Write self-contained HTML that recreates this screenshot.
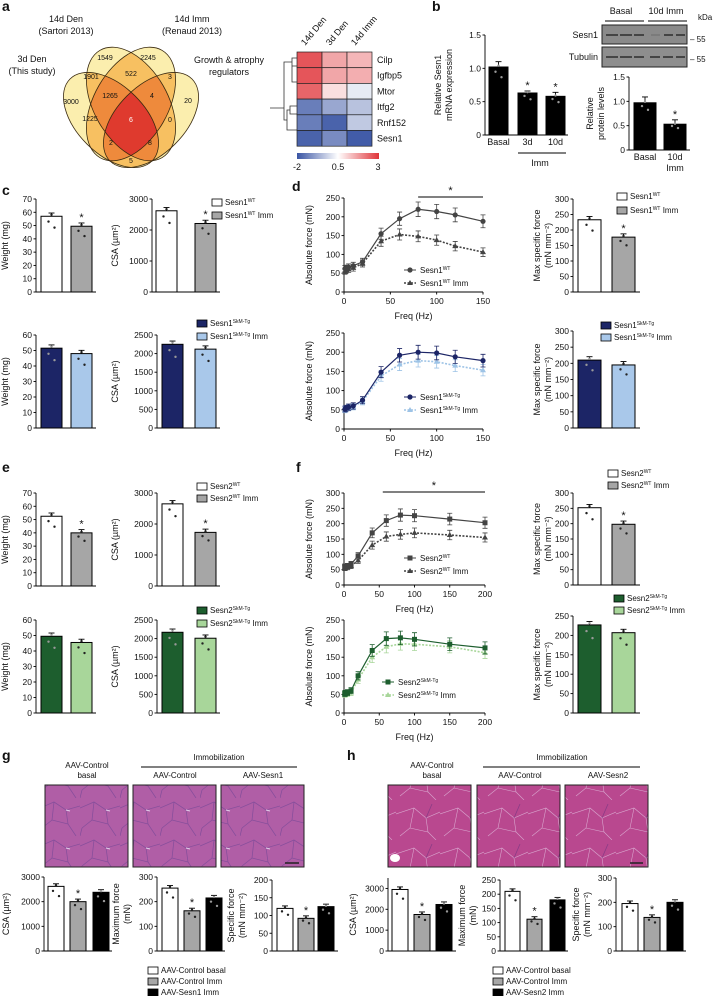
<!DOCTYPE html>
<html><head><meta charset="utf-8"><style>
html,body{margin:0;padding:0;background:#fff}
svg{display:block;font-family:"Liberation Sans",Arial,sans-serif}
text{fill:#111}
</style></head><body>
<svg id="fig" width="713" height="996" viewBox="0 0 713 996" xmlns="http://www.w3.org/2000/svg">
<defs>
<clipPath id="cE1"><ellipse cx="131" cy="104" rx="37" ry="62" transform="rotate(-30 131 104)"/></clipPath>
<clipPath id="cE2"><ellipse cx="131" cy="104" rx="37" ry="62" transform="rotate(30 131 104)"/></clipPath>
<clipPath id="cE3"><ellipse cx="111" cy="120" rx="34" ry="58" transform="rotate(-45 111 120)"/></clipPath>
<clipPath id="cE4"><ellipse cx="151" cy="120" rx="34" ry="58" transform="rotate(45 151 120)"/></clipPath>
<linearGradient id="hmbar" x1="0" x2="1" y1="0" y2="0">
<stop offset="0" stop-color="#3a55a4"/><stop offset="0.5" stop-color="#ffffff"/><stop offset="1" stop-color="#e0353a"/>
</linearGradient>
<pattern id="histoG" width="40" height="38" patternUnits="userSpaceOnUse">
<rect width="40" height="38" fill="#b05ea6"/>
<path d="M0 10 L14 4 L26 12 L40 8 M14 4 L12 22 L2 30 M12 22 L28 26 L26 12 M28 26 L36 38 M2 30 L0 38" stroke="#7d4a98" stroke-width="0.8" fill="none" opacity="0.8"/>
<path d="M26 12 L30 13" stroke="#e0cfe8" stroke-width="1"/>
</pattern>
<pattern id="histoH" width="44" height="40" patternUnits="userSpaceOnUse">
<rect width="44" height="40" fill="#b9488f"/>
<path d="M0 14 L18 8 L30 18 L44 12 M18 8 L14 28 L4 36 M14 28 L32 32 L30 18 M32 32 L40 40" stroke="#d9a6cf" stroke-width="0.6" fill="none"/>
<path d="M30 18 L36 4" stroke="#8a3a86" stroke-width="0.8" fill="none"/>
</pattern>
</defs>

<!-- Panel a: Venn -->
<g stroke="none">
<g fill="#fbeeae">
<ellipse cx="131" cy="104" rx="37" ry="62" transform="rotate(-30 131 104)"/>
<ellipse cx="131" cy="104" rx="37" ry="62" transform="rotate(30 131 104)"/>
<ellipse cx="111" cy="120" rx="34" ry="58" transform="rotate(-45 111 120)"/>
<ellipse cx="151" cy="120" rx="34" ry="58" transform="rotate(45 151 120)"/>
</g>
<g fill="#f7c061">
<g clip-path="url(#cE1)"><rect x="0" y="0" width="300" height="200" clip-path="url(#cE2)"/></g>
<g clip-path="url(#cE1)"><rect x="0" y="0" width="300" height="200" clip-path="url(#cE3)"/></g>
<g clip-path="url(#cE1)"><rect x="0" y="0" width="300" height="200" clip-path="url(#cE4)"/></g>
<g clip-path="url(#cE2)"><rect x="0" y="0" width="300" height="200" clip-path="url(#cE3)"/></g>
<g clip-path="url(#cE2)"><rect x="0" y="0" width="300" height="200" clip-path="url(#cE4)"/></g>
<g clip-path="url(#cE3)"><rect x="0" y="0" width="300" height="200" clip-path="url(#cE4)"/></g>
</g>
<g fill="#ee8a3c">
<g clip-path="url(#cE1)"><g clip-path="url(#cE2)"><rect x="0" y="0" width="300" height="200" clip-path="url(#cE3)"/></g></g>
<g clip-path="url(#cE1)"><g clip-path="url(#cE2)"><rect x="0" y="0" width="300" height="200" clip-path="url(#cE4)"/></g></g>
<g clip-path="url(#cE1)"><g clip-path="url(#cE3)"><rect x="0" y="0" width="300" height="200" clip-path="url(#cE4)"/></g></g>
<g clip-path="url(#cE2)"><g clip-path="url(#cE3)"><rect x="0" y="0" width="300" height="200" clip-path="url(#cE4)"/></g></g>
</g>
<g fill="#df3a2e">
<g clip-path="url(#cE1)"><g clip-path="url(#cE2)"><g clip-path="url(#cE3)"><rect x="0" y="0" width="300" height="200" clip-path="url(#cE4)"/></g></g></g>
</g>
<g fill="none" stroke="#3a2a10" stroke-width="0.8">
<ellipse cx="131" cy="104" rx="37" ry="62" transform="rotate(-30 131 104)"/>
<ellipse cx="131" cy="104" rx="37" ry="62" transform="rotate(30 131 104)"/>
<ellipse cx="111" cy="120" rx="34" ry="58" transform="rotate(-45 111 120)"/>
<ellipse cx="151" cy="120" rx="34" ry="58" transform="rotate(45 151 120)"/>
</g>
</g>
<g font-size="9" text-anchor="middle">
<text x="2" y="11" font-size="14" font-weight="bold" text-anchor="start">a</text>
<text x="66" y="22">14d Den</text><text x="66" y="34">(Sartori 2013)</text>
<text x="192" y="22">14d Imm</text><text x="192" y="34">(Renaud 2013)</text>
<text x="32" y="62">3d Den</text><text x="32" y="74">(This study)</text>
<text x="229" y="63">Growth &amp; atrophy</text><text x="229" y="75">regulators</text>
</g>
<g font-size="7" text-anchor="middle">
<text x="105" y="60">1549</text><text x="148" y="60">2245</text><text x="91" y="79">1901</text>
<text x="131" y="76">522</text><text x="170" y="79">3</text><text x="110" y="98">1265</text>
<text x="152" y="98">4</text><text x="71" y="104">3000</text><text x="188" y="103">20</text>
<text x="90" y="121">1225</text><text x="131" y="122" style="fill:#fff">6</text><text x="170" y="122">0</text>
<text x="111" y="145">2</text><text x="150" y="145">8</text><text x="131" y="163">5</text>
</g>

<!-- Heatmap -->
<g id="heatmap"></g>

<!-- Western blot -->
<g font-size="9">
<text x="621" y="14" text-anchor="middle">Basal</text>
<text x="666" y="14" text-anchor="middle">10d Imm</text>
<line x1="605" y1="21" x2="644" y2="21" stroke="#000"/>
<line x1="648" y1="21" x2="687" y2="21" stroke="#000"/>
<text x="698" y="20" font-size="8">kDa</text>
<rect x="602" y="25" width="85" height="19" fill="#8a8a8a" stroke="#222"/>
<rect x="602" y="47" width="85" height="20" fill="#8e8e8e" stroke="#222"/>
<g stroke="#333" stroke-width="1.6">
<line x1="606" y1="35" x2="618" y2="35"/><line x1="620" y1="35" x2="632" y2="35"/><line x1="634" y1="35" x2="644" y2="35"/>
<line x1="651" y1="35" x2="660" y2="35" stroke="#777"/><line x1="664" y1="35" x2="673" y2="35"/><line x1="676" y1="35" x2="685" y2="35"/>
<line x1="606" y1="57" x2="618" y2="57"/><line x1="620" y1="57" x2="632" y2="57"/><line x1="634" y1="57" x2="644" y2="57"/>
<line x1="650" y1="57" x2="660" y2="57"/><line x1="663" y1="57" x2="673" y2="57"/><line x1="676" y1="57" x2="685" y2="57"/>
</g>
<text x="598" y="38" text-anchor="end">Sesn1</text>
<text x="598" y="60" text-anchor="end">Tubulin</text>
<text x="690" y="42" font-size="8">– 55</text>
<text x="690" y="62" font-size="8">– 55</text>
<text x="432" y="11" font-size="14" font-weight="bold">b</text>
</g>

<!-- Histology -->
<g font-size="8" text-anchor="middle">
<text x="2" y="760" font-size="14" font-weight="bold" text-anchor="start">g</text>
<text x="87" y="768">AAV-Control</text><text x="87" y="778">basal</text>
<text x="219" y="760">Immobilization</text>
<line x1="141" y1="767" x2="297" y2="767" stroke="#000"/>
<text x="175" y="778">AAV-Control</text><text x="263" y="778">AAV-Sesn1</text>
<rect x="45" y="785" width="83" height="82" fill="url(#histoG)" stroke="#222"/>
<rect x="133" y="785" width="83" height="82" fill="url(#histoG)" stroke="#222"/>
<rect x="221" y="785" width="83" height="82" fill="url(#histoG)" stroke="#222"/>
<line x1="285" y1="863" x2="299" y2="863" stroke="#222" stroke-width="1.5"/>
</g>
<g font-size="8" text-anchor="middle">
<text x="347" y="760" font-size="14" font-weight="bold" text-anchor="start">h</text>
<text x="432" y="768">AAV-Control</text><text x="432" y="778">basal</text>
<text x="562" y="760">Immobilization</text>
<line x1="483" y1="767" x2="640" y2="767" stroke="#000"/>
<text x="520" y="778">AAV-Control</text><text x="608" y="778">AAV-Sesn2</text>
<rect x="388" y="785" width="83" height="82" fill="url(#histoH)" stroke="#222"/>
<rect x="477" y="785" width="83" height="82" fill="url(#histoH)" stroke="#222"/>
<rect x="565" y="785" width="83" height="82" fill="url(#histoH)" stroke="#222"/>
<ellipse cx="395" cy="858" rx="5" ry="4" fill="#fff"/>
<line x1="630" y1="863" x2="643" y2="863" stroke="#222" stroke-width="1.5"/>
</g>

<g id="charts"></g>
</svg>
<script>
// ---------- DATA ----------
const hmCols = ["14d Den","3d Den","14d Imm"];
const hmRows = ["Cilp","Igfbp5","Mtor","Itfg2","Rnf152","Sesn1"];
const hmVals = [[2.6,1.6,1.4],[2.6,1.6,1.5],[2.4,0.9,0.2],[-1.4,-0.8,-0.4],[-1.4,-1.8,-0.3],[-1.8,-1.2,-1.9]];
const hmTicks = ["-2","0.5","3"];

const bMrna = [1.02,0.63,0.58];
const bMrnaErr = [0.08,0.03,0.06];
const bProt = [0.97,0.53];
const bProtErr = [0.12,0.09];

const cWeightTop = [57,49.5];
const cCsaTop = [2620,2210];
const dMaxTop = [233,177];
const cWeightBot = [51.5,48];
const cCsaBot = [2250,2120];
const dMaxBot = [210,195];
const eWeightTop = [52.5,40];
const eCsaTop = [2650,1730];
const fMaxTop = [252,198];
const eWeightBot = [49.5,45.5];
const eCsaBot = [2170,2010];
const fMaxBot = [227,207];

const dFreq = [1,2,5,10,20,40,60,80,100,120,150];
const dWT = [62,63,66,70,80,155,195,220,214,205,188];
const dWTImm = [55,57,60,64,76,135,153,148,138,122,106];
const dTg = [52,54,57,60,75,148,192,200,198,188,178];
const dTgImm = [50,52,55,58,72,138,168,178,175,165,153];
const fFreq = [1,2,5,10,20,40,60,80,100,150,200];
const fWT = [60,60,62,68,95,170,210,228,226,215,203];
const fWTImm = [55,56,58,62,80,130,158,165,170,163,155];
const fTg = [52,53,55,60,100,168,200,202,198,185,175];
const fTgImm = [50,51,52,55,90,150,178,186,185,178,162];

const gCsa = [2620,2000,2380];
const gForce = [255,163,215];
const gSpec = [120,92,125];
const hCsa = [2950,1750,2230];
const hForce = [210,112,180];
const hSpec = [195,138,200];

// ---------- helpers ----------
const NS = "http://www.w3.org/2000/svg";
const root = document.getElementById('charts');
function mk(tag, attrs, parent){
  const e = document.createElementNS(NS, tag);
  for (const k in attrs) e.setAttribute(k, attrs[k]);
  (parent||root).appendChild(e);
  return e;
}
function label(x,y,str,size,anchor,parent,rot){
  const t = mk('text',{x:x,y:y,'font-size':size||8,'text-anchor':anchor||'middle'},parent);
  if (rot) t.setAttribute('transform','rotate(-90 '+x+' '+y+')');
  t.textContent = str;
  
  
  return t;
}
function supLabel(x,y,base,sup,tail,size,parent){
  const t = mk('text',{x:x,y:y,'font-size':size||8},parent);
  
  
  const a = document.createElementNS(NS,'tspan'); a.textContent = base; t.appendChild(a);
  const b = document.createElementNS(NS,'tspan'); b.textContent = sup; b.setAttribute('font-size','5'); b.setAttribute('dy','-3'); t.appendChild(b);
  const c = document.createElementNS(NS,'tspan'); c.textContent = tail; c.setAttribute('dy','3'); t.appendChild(c);
  return t;
}
function legendBox(x,y,fill,base,sup,tail){
  const r = mk('rect',{x:x,y:y-6,width:10,height:7,fill:fill,stroke:'#000','stroke-width':0.8});
  
  
  supLabel(x+13,y,base,sup,tail,8);
}
function yAxis(g, ax, yTop, yBot, max, ticks, fmt){
  const l = mk('line',{x1:ax,y1:yTop,x2:ax,y2:yBot,stroke:'#000','stroke-width':0.9},g);
  
  
  ticks.forEach(v=>{
    const y = yBot - v/max*(yBot-yTop);
    const tk = mk('line',{x1:ax-2.5,y1:y,x2:ax,y2:y,stroke:'#000','stroke-width':0.9},g);
    
    
    label(ax-4,y+3,fmt?fmt(v):String(v),8.5,'end',g);
  });
}
function barChart(name, vals, L, errs){
  const g = mk('g',{});
  
  
  yAxis(g, L.ax, L.yTop, L.yBot, L.max, L.ticks, L.fmt);
  const xl = mk('line',{x1:L.ax,y1:L.yBot,x2:L.axEnd,y2:L.yBot,stroke:'#000','stroke-width':0.9},g);
  
  
  const sc = v => L.yBot - v/L.max*(L.yBot-L.yTop);
  vals.forEach((v,i)=>{
    const y = sc(v);
    const er = errs ? errs[i] : L.max*0.035;
    const cx = L.xs[i] + L.w/2;
    const e1 = mk('line',{x1:cx,y1:sc(v+er),x2:cx,y2:y,stroke:'#000','stroke-width':0.9},g);
    
    
    const e2 = mk('line',{x1:cx-3,y1:sc(v+er),x2:cx+3,y2:sc(v+er),stroke:'#000','stroke-width':0.9},g);
    
    
    const r = mk('rect',{x:L.xs[i],y:y,width:L.w,height:L.yBot-y,fill:L.fills[i],stroke:'#000','stroke-width':1},g);
    
    
    const dark = L.fills[i]==='#000'||L.fills[i]==='#1c2566'||L.fills[i]==='#1d5e2e';
    const dotc = dark ? '#999' : '#222';
    [0.93,1.02,0.85].forEach((f,k)=>{
      const d = mk('circle',{cx:cx+(k-1)*3,cy:sc(v*f),r:1.2,fill:dotc},g);
      
      
    });
    if (L.stars && L.stars[i]) label(cx, sc(v+er)-2, '*', 11, 'middle', g);
  });
  if (L.title) L.title.forEach((t,k)=> label(L.tx + k*11, (L.yTop+L.yBot)/2, t, 9, 'middle', g, true));
  if (L.xlabels) L.xlabels.forEach((t,i)=> label(L.xs[i]+L.w/2, L.yBot+10, t, 9, 'middle', g));
  return g;
}
function lineChart(name, freq, s1, s2, L){
  const g = mk('g',{});
  
  
  yAxis(g, L.ax, L.yTop, L.yBot, L.max, L.ticks);
  const xl = mk('line',{x1:L.ax,y1:L.yBot,x2:L.axEnd,y2:L.yBot,stroke:'#000','stroke-width':0.9},g);
  
  
  const sx = f => L.ax + f/L.xmax*(L.axEnd-L.ax);
  const sy = v => L.yBot - v/L.max*(L.yBot-L.yTop);
  L.xticks.forEach(f=>{
    const tk = mk('line',{x1:sx(f),y1:L.yBot,x2:sx(f),y2:L.yBot+2.5,stroke:'#000','stroke-width':0.9},g);
    
    
    label(sx(f), L.yBot+12, String(f), 8.5, 'middle', g);
  });
  label((L.ax+L.axEnd)/2, L.yBot+27, 'Freq (Hz)', 9, 'middle', g);
  label(L.ax-32, (L.yTop+L.yBot)/2, 'Absolute force (mN)', 9, 'middle', g, true);
  [[s2,L.c2,true],[s1,L.c1,false]].forEach(([s,col,dash])=>{
    let dstr = '';
    s.forEach((v,i)=>{ dstr += (i?'L':'M')+sx(freq[i]).toFixed(1)+' '+sy(v).toFixed(1); });
    const p = mk('path',{d:dstr,fill:'none',stroke:col,'stroke-width':dash?1.6:1.2},g);
    if (dash) p.setAttribute('stroke-dasharray','2 1.5');
    
    
    s.forEach((v,i)=>{
      const x = sx(freq[i]), y = sy(v), er = v*0.07+4;
      const eb = mk('path',{d:`M${x} ${sy(v-er)}L${x} ${sy(v+er)}M${x-2.5} ${sy(v-er)}L${x+2.5} ${sy(v-er)}M${x-2.5} ${sy(v+er)}L${x+2.5} ${sy(v+er)}`,stroke:col,'stroke-width':0.8,fill:'none'},g);
      
      
      let m;
      if (dash) m = mk('path',{d:`M${x} ${y-3}L${x+3} ${y+2}L${x-3} ${y+2}Z`,fill:col},g);
      else if (L.square) m = mk('rect',{x:x-2.5,y:y-2.5,width:5,height:5,fill:col},g);
      else m = mk('circle',{cx:x,cy:y,r:2.6,fill:col},g);
      
      
    });
  });
  if (L.starFrom!==undefined){
    const sl = mk('line',{x1:sx(L.starFrom),y1:L.yTop-1,x2:L.axEnd,y2:L.yTop-1,stroke:'#000','stroke-width':0.9},g);
    
    
    label((sx(L.starFrom)+L.axEnd)/2, L.yTop-4, '*', 11, 'middle', g);
  }
  const lx = L.lx, ly = L.ly;
  const m1 = L.square ? mk('rect',{x:lx-2.5,y:ly-5.5,width:5,height:5,fill:L.c1},g) : mk('circle',{cx:lx,cy:ly-3,r:2.6,fill:L.c1},g);
  
  
  const ln1 = mk('line',{x1:lx-6,y1:ly-3,x2:lx+6,y2:ly-3,stroke:L.c1},g);
  
  
  supLabel(lx+10, ly, L.base, L.sup, '', 8, g);
  const m2 = mk('path',{d:`M${lx} ${ly+13-6}L${lx+3} ${ly+13-1}L${lx-3} ${ly+13-1}Z`,fill:L.c2},g);
  
  
  const ln2 = mk('line',{x1:lx-6,y1:ly+10,x2:lx+6,y2:ly+10,stroke:L.c2,'stroke-dasharray':'2 1.5','stroke-width':1.4},g);
  
  
  supLabel(lx+10, ly+13, L.base, L.sup, ' Imm', 8, g);
}

// ---------- heatmap ----------
(function(){
  const g = document.getElementById('heatmap');
  const x0=297, y0=52, cw=25, rh=15.7;
  function col(v){
    const t = (v+2)/5;
    const lo=[58,85,164], mid=[255,255,255], hi=[224,53,58];
    let a,b,f;
    if (t<0.5){a=lo;b=mid;f=t/0.5;} else {a=mid;b=hi;f=(t-0.5)/0.5;}
    return 'rgb('+a.map((c,k)=>Math.round(c+(b[k]-c)*f)).join(',')+')';
  }
  hmVals.forEach((row,r)=>row.forEach((v,c)=>{
    const rc = mk('rect',{x:x0+c*cw,y:y0+r*rh,width:cw,height:rh,fill:col(v),stroke:'#222','stroke-width':0.7},g);
    
    
  }));
  hmRows.forEach((n,r)=>label(x0+3*cw+5, y0+r*rh+11, n, 9, 'start', g));
  hmCols.forEach((n,c)=>{
    const t = label(x0+c*cw+8, y0-6, n, 9, 'start', g);
    t.setAttribute('transform','rotate(-50 '+(x0+c*cw+8)+' '+(y0-6)+')');
  });
  const dg = mk('path',{d:'M297 58H292V66H297M292 62H284V108H270M297 82H292V62M297 106H290V114H297M290 110H287V130H297M287 120H284V108',fill:'none',stroke:'#333','stroke-width':0.8},g);
  
  
  const cb = mk('rect',{x:297,y:153,width:82,height:6,fill:'url(#hmbar)'},g);
  
  
  label(297,170,hmTicks[0],9,'middle',g);
  label(338,170,hmTicks[1],9,'middle',g);
  label(378,170,hmTicks[2],9,'middle',g);
})();

// ---------- panel b ----------
barChart('mrna-bar-chart', bMrna, {ax:485,axEnd:568,yTop:35,yBot:135,max:1.5,ticks:[0,0.5,1,1.5],fmt:v=>v===0?'0':v.toFixed(1),xs:[489,518,546],w:19,fills:['#000','#000','#000'],stars:[0,1,1],title:['Relative Sesn1','mRNA expression'],tx:441,xlabels:['Basal','3d','10d']}, bMrnaErr);
const immBr = mk('line',{x1:518,y1:153,x2:566,y2:153,stroke:'#000'});


label(540,166,'Imm',9,'middle');
barChart('protein-bar-chart', bProt, {ax:629,axEnd:690,yTop:77,yBot:150,max:1.5,ticks:[0,0.5,1,1.5],fmt:v=>v===0?'0':v.toFixed(1),xs:[634,664],w:22,fills:['#000','#000'],stars:[0,1],title:['Relative','protein levels'],tx:593,xlabels:['Basal','10d']}, bProtErr);
label(675,171,'Imm',9,'middle');

// ---------- panel c/d ----------
label(2,195,'c',14,'start').setAttribute('font-weight','bold');
label(292,191,'d',14,'start').setAttribute('font-weight','bold');
label(2,472,'e',14,'start').setAttribute('font-weight','bold');
label(296,472,'f',14,'start').setAttribute('font-weight','bold');

const wt2 = ['#fff','#a6a6a6'];
const tg1 = ['#1c2566','#a9c8ea'];
const tg2 = ['#1d5e2e','#a8d69a'];

barChart('c-weight-wt', cWeightTop, {ax:36,axEnd:96,yTop:199,yBot:292,max:70,ticks:[0,10,20,30,40,50,60,70],xs:[41,71],w:21,fills:wt2,stars:[0,1],title:['Weight (mg)'],tx:8});
barChart('c-csa-wt', cCsaTop, {ax:152,axEnd:220,yTop:199,yBot:292,max:3000,ticks:[0,1000,2000,3000],xs:[156,195],w:21,fills:wt2,stars:[0,1],title:['CSA (µm²)'],tx:118});
legendBox(212,205,'#fff','Sesn1','WT','');
legendBox(212,218,'#a6a6a6','Sesn1','WT',' Imm');
lineChart('d-force-wt', dFreq, dWT, dWTImm, {ax:344,axEnd:483,yTop:198,yBot:292,max:250,ticks:[0,50,100,150,200,250],xmax:150,xticks:[0,50,100,150],c1:'#444',c2:'#444',starFrom:80,lx:410,ly:273,base:'Sesn1',sup:'WT'});
barChart('d-max-wt', dMaxTop, {ax:573,axEnd:640,yTop:199,yBot:292,max:300,ticks:[0,50,100,150,200,250,300],xs:[578,612],w:23,fills:wt2,stars:[0,1],title:['Max specific force','(mN mm⁻²)'],tx:540});
legendBox(617,199,'#fff','Sesn1','WT','');
legendBox(617,213,'#a6a6a6','Sesn1','WT',' Imm');

barChart('c-weight-tg', cWeightBot, {ax:36,axEnd:96,yTop:335,yBot:428,max:60,ticks:[0,10,20,30,40,50,60],xs:[41,71],w:21,fills:tg1,title:['Weight (mg)'],tx:8});
barChart('c-csa-tg', cCsaBot, {ax:157,axEnd:220,yTop:335,yBot:428,max:2500,ticks:[0,500,1000,1500,2000,2500],xs:[162,195],w:21,fills:tg1,title:['CSA (µm²)'],tx:118});
legendBox(197,326,'#1c2566','Sesn1','SkM-Tg','');
legendBox(197,339,'#a9c8ea','Sesn1','SkM-Tg',' Imm');
lineChart('d-force-tg', dFreq, dTg, dTgImm, {ax:344,axEnd:483,yTop:333,yBot:429,max:250,ticks:[0,50,100,150,200,250],xmax:150,xticks:[0,50,100,150],c1:'#1c2566',c2:'#9dc3e6',lx:410,ly:400,base:'Sesn1',sup:'SkM-Tg'});
barChart('d-max-tg', dMaxBot, {ax:573,axEnd:640,yTop:331,yBot:428,max:300,ticks:[0,50,100,150,200,250,300],xs:[578,612],w:23,fills:tg1,title:['Max specific force','(mN mm⁻²)'],tx:540});
legendBox(601,328,'#1c2566','Sesn1','SkM-Tg','');
legendBox(601,340,'#a9c8ea','Sesn1','SkM-Tg',' Imm');

// ---------- panel e/f ----------
barChart('e-weight-wt', eWeightTop, {ax:36,axEnd:96,yTop:493,yBot:586,max:70,ticks:[0,10,20,30,40,50,60,70],xs:[41,71],w:21,fills:wt2,stars:[0,1],title:['Weight (mg)'],tx:8});
barChart('e-csa-wt', eCsaTop, {ax:157,axEnd:220,yTop:493,yBot:586,max:3000,ticks:[0,1000,2000,3000],xs:[162,195],w:21,fills:wt2,stars:[0,1],title:['CSA (µm²)'],tx:118});
legendBox(197,489,'#fff','Sesn2','WT','');
legendBox(197,501,'#a6a6a6','Sesn2','WT',' Imm');
lineChart('f-force-wt', fFreq, fWT, fWTImm, {ax:344,axEnd:485,yTop:493,yBot:585,max:300,ticks:[0,50,100,150,200,250,300],xmax:200,xticks:[0,50,100,150,200],c1:'#444',c2:'#444',square:true,starFrom:55,lx:410,ly:561,base:'Sesn2',sup:'WT'});
barChart('f-max-wt', fMaxTop, {ax:573,axEnd:640,yTop:493,yBot:585,max:300,ticks:[0,50,100,150,200,250,300],xs:[578,612],w:23,fills:wt2,stars:[0,1],title:['Max specific force','(mN mm⁻²)'],tx:540});
legendBox(608,476,'#fff','Sesn2','WT','');
legendBox(608,488,'#a6a6a6','Sesn2','WT',' Imm');

barChart('e-weight-tg', eWeightBot, {ax:36,axEnd:96,yTop:620,yBot:713,max:60,ticks:[0,10,20,30,40,50,60],xs:[41,71],w:21,fills:tg2,title:['Weight (mg)'],tx:8});
barChart('e-csa-tg', eCsaBot, {ax:157,axEnd:220,yTop:620,yBot:713,max:2500,ticks:[0,500,1000,1500,2000,2500],xs:[162,195],w:21,fills:tg2,title:['CSA (µm²)'],tx:118});
legendBox(197,613,'#1d5e2e','Sesn2','SkM-Tg','');
legendBox(197,626,'#a8d69a','Sesn2','SkM-Tg',' Imm');
lineChart('f-force-tg', fFreq, fTg, fTgImm, {ax:344,axEnd:485,yTop:620,yBot:713,max:250,ticks:[0,50,100,150,200,250],xmax:200,xticks:[0,50,100,150,200],c1:'#1d5e2e',c2:'#a8d69a',square:true,lx:388,ly:685,base:'Sesn2',sup:'SkM-Tg'});
barChart('f-max-tg', fMaxBot, {ax:573,axEnd:640,yTop:616,yBot:713,max:250,ticks:[0,50,100,150,200,250],xs:[578,612],w:23,fills:tg2,title:['Max specific force','(mN mm⁻²)'],tx:540});
legendBox(614,601,'#1d5e2e','Sesn2','SkM-Tg','');
legendBox(614,613,'#a8d69a','Sesn2','SkM-Tg',' Imm');

// ---------- panel g/h bars ----------
const g3 = ['#fff','#a6a6a6','#000'];
barChart('g-csa', gCsa, {ax:44,axEnd:112,yTop:877,yBot:951,max:3000,ticks:[0,1000,2000,3000],xs:[48,70,93],w:16,fills:g3,stars:[0,1,0],title:['CSA (µm²)'],tx:9});
barChart('g-max-force', gForce, {ax:157,axEnd:225,yTop:877,yBot:951,max:300,ticks:[0,100,200,300],xs:[162,184,206],w:16,fills:g3,stars:[0,1,0],title:['Maximum force','(mN)'],tx:119});
barChart('g-specific-force', gSpec, {ax:272,axEnd:338,yTop:880,yBot:951,max:200,ticks:[0,50,100,150,200],xs:[277,298,318],w:16,fills:g3,stars:[0,1,0],title:['Specific force','(mN mm⁻²)'],tx:234});
legendBox(148,973,'#fff','AAV-Control basal','','');
legendBox(148,984,'#a6a6a6','AAV-Control Imm','','');
legendBox(148,995,'#000','AAV-Sesn1 Imm','','');

barChart('h-csa', hCsa, {ax:388,axEnd:456,yTop:878,yBot:951,max:3500,ticks:[0,1000,2000,3000],xs:[392,414,436],w:16,fills:g3,stars:[0,1,0],title:['CSA (µm²)'],tx:356});
barChart('h-max-force', hForce, {ax:500,axEnd:568,yTop:880,yBot:951,max:250,ticks:[0,50,100,150,200,250],xs:[505,527,550],w:15,fills:g3,stars:[0,1,0],title:['Maximum force','(mN)'],tx:465});
barChart('h-specific-force', hSpec, {ax:616,axEnd:686,yTop:878,yBot:951,max:300,ticks:[0,100,200,300],xs:[622,644,667],w:16,fills:g3,stars:[0,1,0],title:['Specific force','(mN mm⁻²)'],tx:579});
legendBox(493,973,'#fff','AAV-Control basal','','');
legendBox(493,984,'#a6a6a6','AAV-Control Imm','','');
legendBox(493,995,'#000','AAV-Sesn2 Imm','','');
</script>
</body></html>
